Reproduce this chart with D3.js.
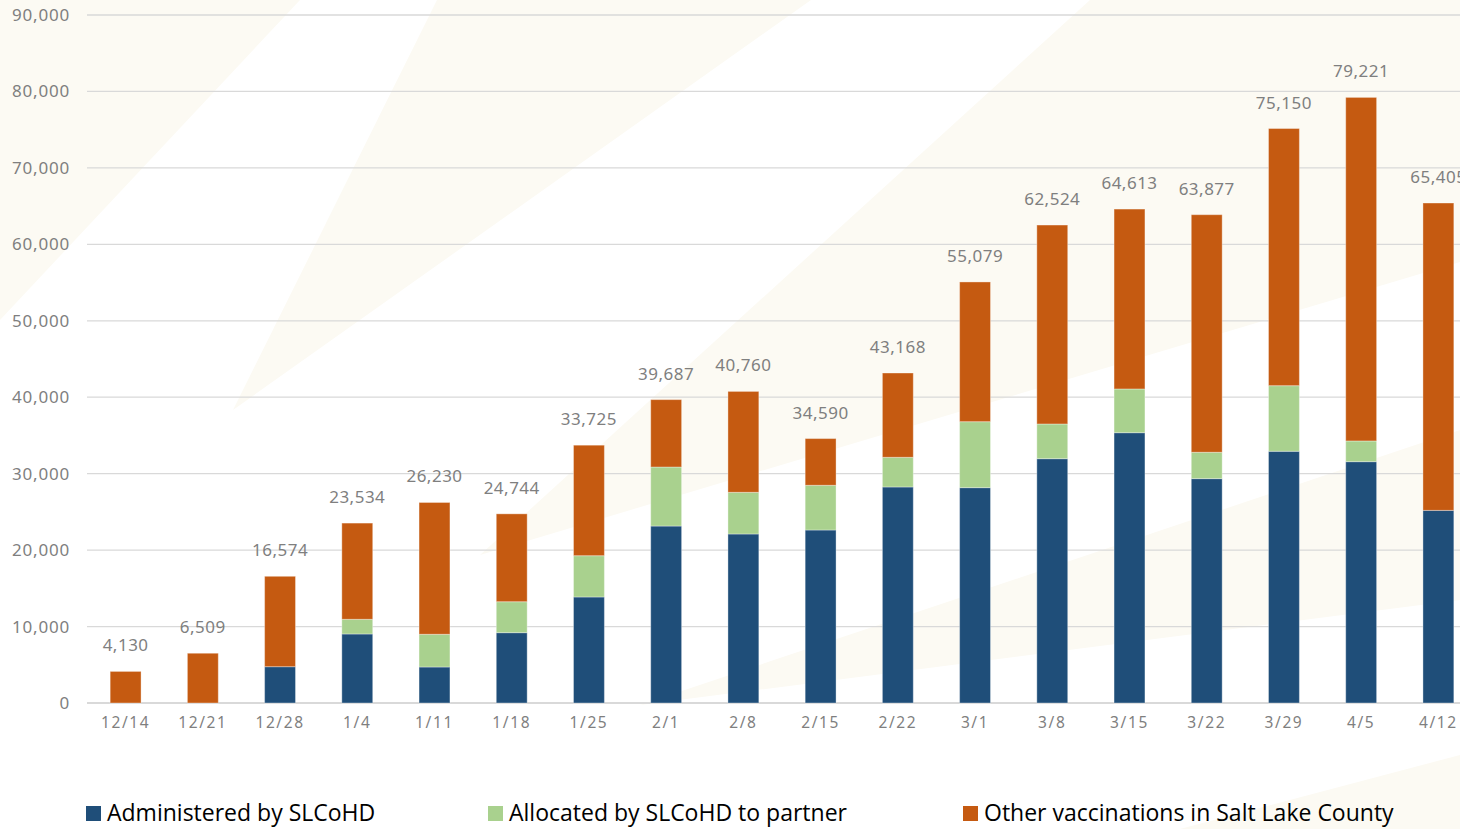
<!DOCTYPE html>
<html>
<head>
<meta charset="utf-8">
<script src="https://cdn.jsdelivr.net/npm/d3@7"></script>
<style>
  body { margin: 0; background: #fff; overflow: hidden; }
  .tick-y { font-family: "Noto Sans", sans-serif; font-size: 17px; fill: #7f7f7f; letter-spacing: 0.8px; }
  .tick-x { font-family: "Noto Sans", sans-serif; font-size: 15.5px; fill: #7f7f7f; letter-spacing: 1.6px; }
  .total { font-family: "Noto Sans", sans-serif; font-size: 17px; fill: #7f7f7f; letter-spacing: 0.5px; }
  .legend text { font-family: "Open Sans", sans-serif; font-size: 23px; fill: #000; }
</style>
</head>
<body>
<div id="chart"></div>
<script>
// weekly vaccinations, Salt Lake County
var weeks = ["12/14", "12/21", "12/28", "1/4", "1/11", "1/18", "1/25", "2/1", "2/8",
             "2/15", "2/22", "3/1", "3/8", "3/15", "3/22", "3/29", "4/5", "4/12"];
var administered = [0, 0, 4750, 9030, 4710, 9200, 13870, 23150, 22110,
                    22630, 28260, 28170, 31960, 35360, 29350, 32930, 31570, 25200];
var allocated = [0, 0, 0, 1920, 4280, 4050, 5400, 7720, 5450,
                 5850, 3880, 8630, 4540, 5720, 3450, 8580, 2710, 0];
var other = [4130, 6509, 11824, 12584, 17240, 11494, 14455, 8817, 13200,
             6110, 11028, 18279, 26024, 23533, 31077, 33640, 44941, 40205];
var seriesNames = ["Administered by SLCoHD", "Allocated by SLCoHD to partner", "Other vaccinations in Salt Lake County"];
var seriesColors = ["#1f4e79", "#a9d18e", "#c55a11"];
var yTicks = [0, 10000, 20000, 30000, 40000, 50000, 60000, 70000, 80000, 90000];

var W = 1460, H = 829;
var margin = {top: 15, left: 87};
var plotW = 1390, plotH = 688;

var svg = d3.select("#chart").append("svg")
    .attr("width", W)
    .attr("height", H);

// faint background rays
var rays = [
    [[0, 0], [300, 0], [0, 320]],
    [[233, 410], [437, 0], [811, 0]],
    [[480, 555], [1090, 0], [1460, 0], [1460, 262]],
    [[640, 705], [1460, 430], [1460, 600]],
    [[1180, 829], [1460, 755], [1460, 829]]
];
svg.selectAll("polygon.ray")
    .data(rays)
    .enter().append("polygon")
    .attr("class", "ray")
    .attr("points", function(d) { return d.map(function(p) { return p.join(","); }).join(" "); })
    .attr("fill", "#fcfaf3");

var g = svg.append("g")
    .attr("transform", "translate(" + margin.left + "," + margin.top + ")");

var x = d3.scaleBand()
    .domain(weeks)
    .range([0, plotW])
    .paddingInner(0.6)
    .paddingOuter(0.3);

var y = d3.scaleLinear()
    .domain([0, 90000])
    .range([plotH, 0]);

// gridlines
g.selectAll("line.grid")
    .data(yTicks)
    .enter().append("line")
    .attr("class", "grid")
    .attr("x1", 0)
    .attr("x2", plotW)
    .attr("y1", function(d) { return y(d); })
    .attr("y2", function(d) { return y(d); })
    .attr("stroke", "#d9d9d9")
    .attr("stroke-width", function(d) { return d === 0 ? 2 : 1.3; });

// y tick labels
g.selectAll("text.tick-y")
    .data(yTicks)
    .enter().append("text")
    .attr("class", "tick-y")
    .attr("x", -17)
    .attr("y", function(d) { return y(d); })
    .attr("dy", "0.35em")
    .attr("text-anchor", "end")
    .text(function(d) { return d3.format(",")(d); });

// stacked bars
var rows = weeks.map(function(w, i) {
    return {week: w, a: administered[i], b: allocated[i], c: other[i]};
});
var stack = d3.stack().keys(["a", "b", "c"]);
var layers = stack(rows);

g.selectAll("g.layer")
    .data(layers)
    .enter().append("g")
    .attr("class", "layer")
    .attr("fill", function(d, i) { return seriesColors[i]; })
    .selectAll("rect")
    .data(function(d) { return d.filter(function(s) { return s[1] > s[0]; }); })
    .enter().append("rect")
    .attr("x", function(d) { return x(d.data.week); })
    .attr("width", x.bandwidth())
    .attr("y", function(d) { return y(d[1]); })
    .attr("height", function(d) { return y(d[0]) - y(d[1]); })
    .attr("stroke", "#ffffff")
    .attr("stroke-opacity", 0.35)
    .attr("stroke-width", 1);

// totals above bars
g.selectAll("text.total")
    .data(rows)
    .enter().append("text")
    .attr("class", "total")
    .attr("x", function(d) { return x(d.week) + x.bandwidth() / 2; })
    .attr("y", function(d) { return y(d.a + d.b + d.c) - 20; })
    .attr("text-anchor", "middle")
    .text(function(d) { return d3.format(",")(d.a + d.b + d.c); });

// x tick labels
g.selectAll("text.tick-x")
    .data(weeks)
    .enter().append("text")
    .attr("class", "tick-x")
    .attr("x", function(d) { return x(d) + x.bandwidth() / 2; })
    .attr("y", plotH + 25)
    .attr("text-anchor", "middle")
    .text(function(d) { return d; });

// legend
var legendX = [86, 488, 963];
var legend = svg.append("g").attr("class", "legend");
var items = legend.selectAll("g")
    .data(seriesNames)
    .enter().append("g")
    .attr("transform", function(d, i) { return "translate(" + legendX[i] + ",806)"; });
items.append("rect")
    .attr("width", 15)
    .attr("height", 15)
    .attr("fill", function(d, i) { return seriesColors[i]; });
items.append("text")
    .attr("x", 21)
    .attr("y", 15)
    .text(function(d) { return d; });
</script>
</body>
</html>
